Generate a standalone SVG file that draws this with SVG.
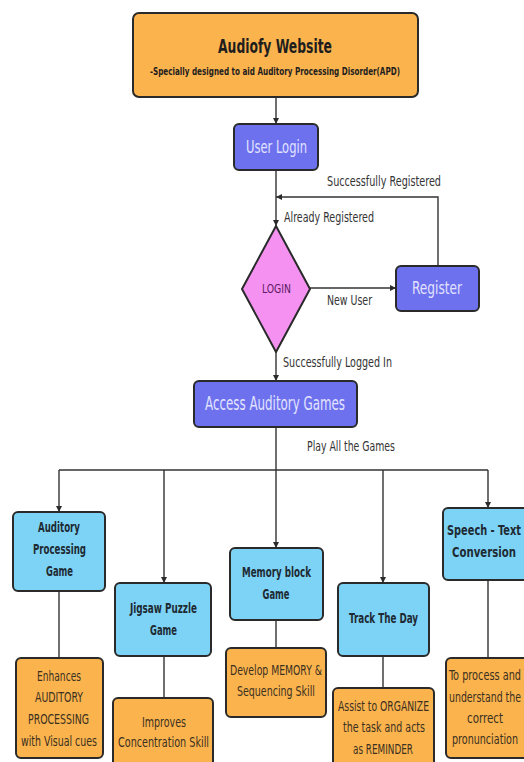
<svg xmlns="http://www.w3.org/2000/svg" width="524" height="762" viewBox="0 0 524 762">
<defs>
<marker id="ah" viewBox="0 0 10 10" refX="10" refY="5" markerWidth="6" markerHeight="6" orient="auto" markerUnits="userSpaceOnUse">
<path d="M0,0 L10,5 L0,10 z" fill="#2b2b2b"/>
</marker>
<style>
.box{stroke:#2a2a2a;stroke-width:2}
.org{fill:#FBB34E}
.pur{fill:#6D71EE}
.sky{fill:#7DD3F5}
.pink{fill:#F592F1}
.ln{fill:none;stroke:#333;stroke-width:1.4}
text{font-family:'Liberation Sans Narrow','DejaVu Sans Condensed',Roboto,sans-serif;text-anchor:middle}
.t{font-size:14px;fill:#333}
.lt{font-size:18px;fill:#E2E3FF}
.gb{font-size:14px;font-weight:bold;fill:#1E2A33}
.rs{font-size:14.5px;fill:#3A3020}
</style>
</defs>
<g id="connectors">
<path class="ln" d="M276,97 V124" marker-end="url(#ah)"/>
<path class="ln" d="M276,170 V226" marker-end="url(#ah)"/>
<path class="ln" d="M438,266 V197 H276" marker-end="url(#ah)"/>
<path class="ln" d="M310,288 H396" marker-end="url(#ah)"/>
<path class="ln" d="M276,352 V381" marker-end="url(#ah)"/>
<path class="ln" d="M276,427 V470"/>
<path class="ln" d="M59,470 H488"/>
<path class="ln" d="M59,470 V512" marker-end="url(#ah)"/>
<path class="ln" d="M164,470 V583" marker-end="url(#ah)"/>
<path class="ln" d="M276,470 V548" marker-end="url(#ah)"/>
<path class="ln" d="M383,470 V583" marker-end="url(#ah)"/>
<path class="ln" d="M488,470 V508" marker-end="url(#ah)"/>
<path class="ln" d="M59,591 V658"/>
<path class="ln" d="M164,656 V698"/>
<path class="ln" d="M276,620 V648"/>
<path class="ln" d="M383,656 V688"/>
<path class="ln" d="M488,580 V658"/>
<text class="t" x="384" y="186" textLength="114" lengthAdjust="spacingAndGlyphs">Successfully Registered</text>
<text class="t" x="329" y="222" textLength="90" lengthAdjust="spacingAndGlyphs">Already Registered</text>
<text class="t" x="349.5" y="305" textLength="45" lengthAdjust="spacingAndGlyphs">New User</text>
<text class="t" x="337.5" y="367" textLength="109" lengthAdjust="spacingAndGlyphs">Successfully Logged In</text>
<text class="t" x="351" y="451" textLength="88" lengthAdjust="spacingAndGlyphs">Play All the Games</text>
</g>
<g id="audiofy">
<rect class="box org" x="133" y="13" width="285" height="84" rx="6"/>
<text x="275" y="53" style="font-size:20px;font-weight:bold;fill:#1E1E1E" textLength="114" lengthAdjust="spacingAndGlyphs">Audiofy Website</text>
<text x="275" y="75" style="font-size:11px;font-weight:bold;fill:#1E1E1E" textLength="250" lengthAdjust="spacingAndGlyphs">-Specially designed to aid Auditory Processing Disorder(APD)</text>
</g>
<g id="userlogin">
<rect class="box pur" x="234" y="124" width="84" height="46" rx="5"/>
<text class="lt" x="276.5" y="153" textLength="61" lengthAdjust="spacingAndGlyphs">User Login</text>
</g>
<g id="login">
<polygon class="box pink" points="276,226 310,289 276,352 242,289" stroke-linejoin="round"/>
<text x="276.5" y="293" style="font-size:13px;fill:#5E1A63" textLength="29" lengthAdjust="spacingAndGlyphs">LOGIN</text>
</g>
<g id="register">
<rect class="box pur" x="396" y="266" width="83" height="45" rx="5"/>
<text class="lt" x="437" y="294" textLength="50" lengthAdjust="spacingAndGlyphs">Register</text>
</g>
<g id="access">
<rect class="box pur" x="194" y="381" width="163" height="46" rx="5"/>
<text class="lt" x="275" y="410" style="font-size:19px" textLength="140" lengthAdjust="spacingAndGlyphs">Access Auditory Games</text>
</g>
<g id="game1">
<rect class="box sky" x="13" y="512" width="92" height="79" rx="5"/>
<text class="gb" x="59" y="532" textLength="42" lengthAdjust="spacingAndGlyphs">Auditory</text>
<text class="gb" x="59.5" y="554" textLength="53" lengthAdjust="spacingAndGlyphs">Processing</text>
<text class="gb" x="59.5" y="576" textLength="27" lengthAdjust="spacingAndGlyphs">Game</text>
</g>
<g id="game2">
<rect class="box sky" x="115" y="583" width="96" height="73" rx="5"/>
<text class="gb" x="163.5" y="613" textLength="67" lengthAdjust="spacingAndGlyphs">Jigsaw Puzzle</text>
<text class="gb" x="163.5" y="635" textLength="27" lengthAdjust="spacingAndGlyphs">Game</text>
</g>
<g id="game3">
<rect class="box sky" x="230" y="548" width="93" height="72" rx="5"/>
<text class="gb" x="276.5" y="577" textLength="69" lengthAdjust="spacingAndGlyphs">Memory block</text>
<text class="gb" x="276" y="599" textLength="27" lengthAdjust="spacingAndGlyphs">Game</text>
</g>
<g id="game4">
<rect class="box sky" x="338" y="583" width="91" height="73" rx="5"/>
<text class="gb" x="383.5" y="623" textLength="69" lengthAdjust="spacingAndGlyphs">Track The Day</text>
</g>
<g id="game5">
<rect class="box sky" x="443" y="508" width="88" height="72" rx="5"/>
<text class="gb" x="484" y="535" textLength="74" lengthAdjust="spacingAndGlyphs">Speech - Text</text>
<text class="gb" x="484" y="557" textLength="64" lengthAdjust="spacingAndGlyphs">Conversion</text>
</g>
<g id="result1">
<rect class="box org" x="16" y="658" width="87" height="100" rx="5"/>
<text class="rs" x="59" y="681" textLength="44" lengthAdjust="spacingAndGlyphs">Enhances</text>
<text class="rs" x="59" y="702" textLength="48" lengthAdjust="spacingAndGlyphs">AUDITORY</text>
<text class="rs" x="58.5" y="724" textLength="61" lengthAdjust="spacingAndGlyphs">PROCESSING</text>
<text class="rs" x="59" y="746" textLength="76" lengthAdjust="spacingAndGlyphs">with Visual cues</text>
</g>
<g id="result2">
<rect class="box org" x="113" y="698" width="100" height="72" rx="5"/>
<text class="rs" x="164" y="727" textLength="44" lengthAdjust="spacingAndGlyphs">Improves</text>
<text class="rs" x="163.5" y="747" textLength="91" lengthAdjust="spacingAndGlyphs">Concentration Skill</text>
</g>
<g id="result3">
<rect class="box org" x="226" y="648" width="100" height="69" rx="5"/>
<text class="rs" x="276" y="675" textLength="92" lengthAdjust="spacingAndGlyphs">Develop MEMORY &amp;</text>
<text class="rs" x="276" y="696" textLength="78" lengthAdjust="spacingAndGlyphs">Sequencing Skill</text>
</g>
<g id="result4">
<rect class="box org" x="333" y="688" width="101" height="82" rx="5"/>
<text class="rs" x="383.5" y="711" textLength="91" lengthAdjust="spacingAndGlyphs">Assist to ORGANIZE</text>
<text class="rs" x="384" y="732" textLength="82" lengthAdjust="spacingAndGlyphs">the task and acts</text>
<text class="rs" x="383" y="754" textLength="60" lengthAdjust="spacingAndGlyphs">as REMINDER</text>
</g>
<g id="result5">
<rect class="box org" x="446" y="658" width="88" height="100" rx="5"/>
<text class="rs" x="485" y="680" textLength="72" lengthAdjust="spacingAndGlyphs">To process and</text>
<text class="rs" x="485" y="702" textLength="72" lengthAdjust="spacingAndGlyphs">understand the</text>
<text class="rs" x="485" y="723" textLength="36" lengthAdjust="spacingAndGlyphs">correct</text>
<text class="rs" x="485" y="744" textLength="66" lengthAdjust="spacingAndGlyphs">pronunciation</text>
</g>
</svg>
